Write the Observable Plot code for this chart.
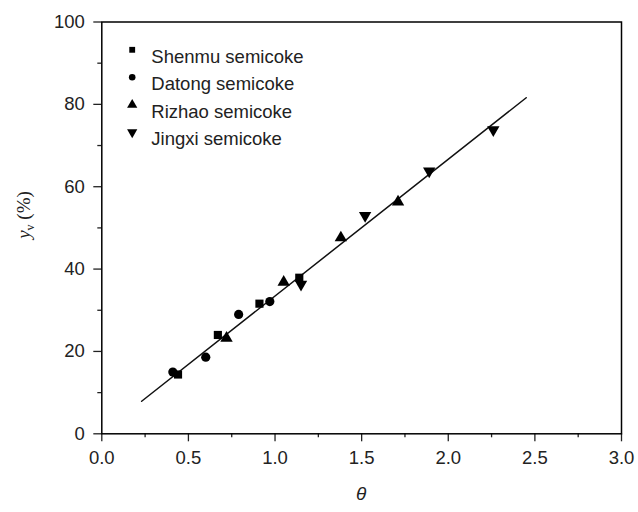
<!DOCTYPE html>
<html>
<head>
<meta charset="utf-8">
<script src="https://cdn.jsdelivr.net/npm/d3@7"></script>
<script src="https://cdn.jsdelivr.net/npm/@observablehq/plot@0.6"></script>
<style>
  body { margin: 0; background: #fff; }
  #chart svg { display: block; }
</style>
</head>
<body>
<div id="chart"></div>
<script>
// ---- data ----
const seriesNames = ["Shenmu semicoke", "Datong semicoke", "Rizhao semicoke", "Jingxi semicoke"];
const shenmuTheta = [0.44, 0.67, 0.91, 1.14];
const shenmuY     = [14.4, 24.0, 31.6, 37.9];
const datongTheta = [0.41, 0.60, 0.79, 0.97];
const datongY     = [15.0, 18.6, 29.0, 32.1];
const rizhaoTheta = [0.72, 1.05, 1.38, 1.71];
const rizhaoY     = [23.2, 36.8, 47.6, 56.3];
const jingxiTheta = [1.15, 1.52, 1.89, 2.26];
const jingxiY     = [36.3, 53.0, 63.8, 73.8];
const fitTheta = [0.23, 2.45];
const fitY     = [7.9, 81.6];
const xTicks = [0, 0.5, 1.0, 1.5, 2.0, 2.5, 3.0];
const xMinor = [0.25, 0.75, 1.25, 1.75, 2.25, 2.75];
const yTicks = [0, 20, 40, 60, 80, 100];
const yMinor = [10, 30, 50, 70, 90];

// ---- build ----
const thetas = [shenmuTheta, datongTheta, rizhaoTheta, jingxiTheta];
const ys = [shenmuY, datongY, rizhaoY, jingxiY];
const symbols = ["square", "circle", "triangle", "triangle"];
const rotations = [0, 0, 0, 180];
const points = [];
seriesNames.forEach((s, i) => thetas[i].forEach((t, j) => points.push({series: s, theta: t, y: ys[i][j]})));
const fit = fitTheta.map((t, i) => ({theta: t, y: fitY[i]}));

const font = "'Liberation Sans', Arial, sans-serif";
const marks = [
  Plot.axisX({ticks: xTicks, tickSize: 8, tickPadding: 9, tickFormat: d3.format(".1f"), fontSize: 18.5, label: null, strokeWidth: 1.3}),
  Plot.axisX({ticks: xMinor, tickSize: 4, tickFormat: () => "", label: null, strokeWidth: 1.3}),
  Plot.axisY({ticks: yTicks, tickSize: 8, tickPadding: 9, fontSize: 18.5, label: null, strokeWidth: 1.3}),
  Plot.axisY({ticks: yMinor, tickSize: 4, tickFormat: () => "", label: null, strokeWidth: 1.3}),
  Plot.frame({stroke: "#000", strokeWidth: 1.5}),
  Plot.line(fit, {x: "theta", y: "y", stroke: "#111", strokeWidth: 1.5})
];
seriesNames.forEach((s, i) => {
  marks.push(Plot.dot(points.filter(d => d.series === s), {
    x: "theta", y: "y", symbol: () => symbols[i], rotate: rotations[i], r: 4.6, fill: "#000", stroke: "none"
  }));
  marks.push(Plot.dot([s], {
    frameAnchor: "top-left", dx: 30.4, dy: 27.8 + i * 27.5,
    symbol: () => symbols[i], rotate: rotations[i], r: symbols[i] === "triangle" ? 3.8 : 3.3, fill: "#000", stroke: "none"
  }));
  marks.push(Plot.text([s], {
    frameAnchor: "top-left", dx: 49.5, dy: 27.8 + i * 27.5, text: d => d,
    textAnchor: "start", fontSize: 18.5, fill: "#222"
  }));
});

const chart = Plot.plot({
  width: 638,
  height: 512,
  marginLeft: 101.3,
  marginRight: 17,
  marginTop: 21.5,
  marginBottom: 78.7,
  style: {fontFamily: font, color: "#222", background: "#fff"},
  x: {domain: [0, 3]},
  y: {domain: [0, 100]},
  symbol: {type: "identity"},
  marks
});

// axis titles with italic / subscript
const svg = d3.select(chart);
svg.append("text")
  .attr("x", (101.3 + 621) / 2).attr("y", 500)
  .attr("text-anchor", "middle")
  .style("font-family", font).style("font-size", "19px").style("font-style", "italic").attr("fill", "#222")
  .text("θ");
const yt = svg.append("text")
  .attr("transform", "translate(30,215) rotate(-90)")
  .attr("text-anchor", "middle")
  .style("font-family", "'Liberation Serif', 'Times New Roman', serif").style("font-size", "19px").attr("fill", "#222");
yt.append("tspan").style("font-style", "italic").text("y");
yt.append("tspan").attr("dy", 4).style("font-size", "12px").text("v");
yt.append("tspan").attr("dy", -4).text(" (%)");

document.getElementById("chart").appendChild(chart);
</script>
</body>
</html>
